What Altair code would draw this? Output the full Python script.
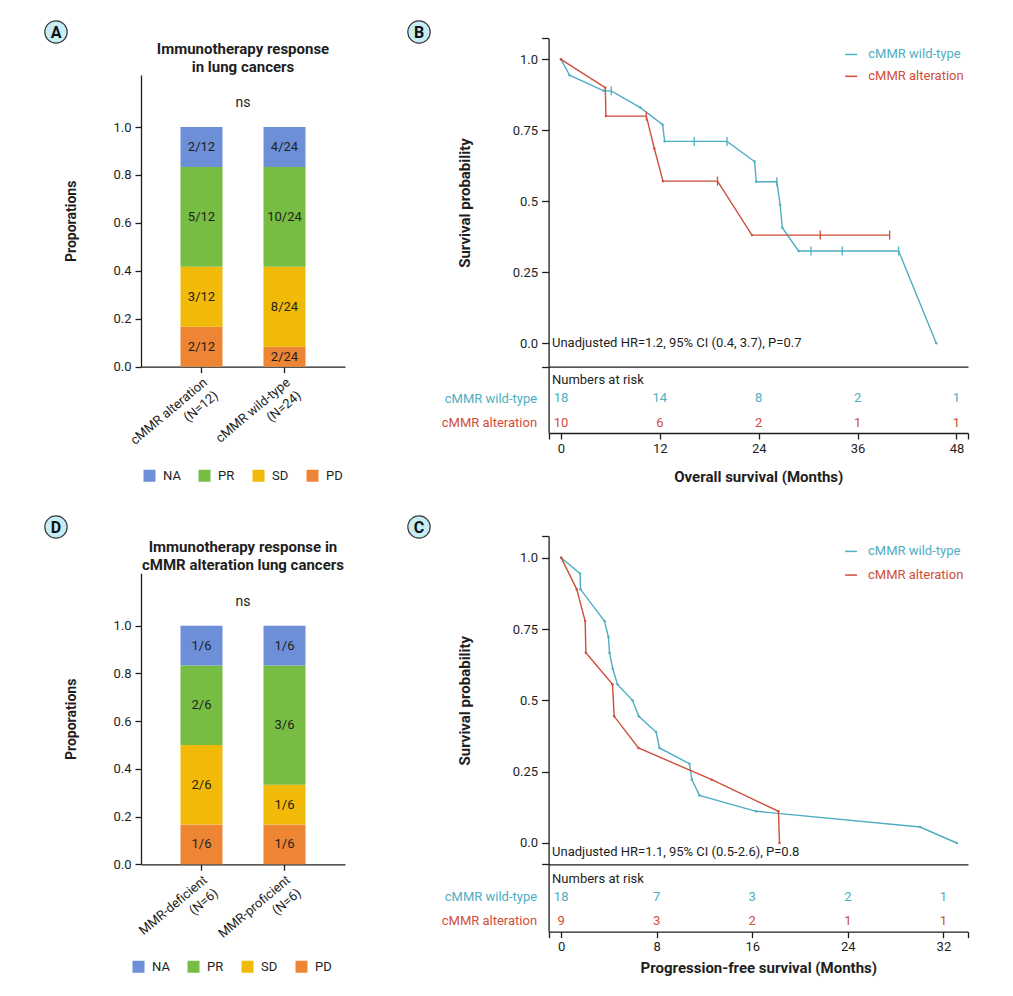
import altair as alt
import pandas as pd

FONT = "Roboto"
INK = "#1e1e1e"
W, H = 997, 980

# ---------------- data ----------------
resp_levels = ["NA", "PR", "SD", "PD"]
resp_colors = ["#6C8FD8", "#77BD44", "#F1B908", "#EE8535"]
stack_order = ["PD", "SD", "PR", "NA"]

a_groups = ["cMMR alteration\n(N=12)", "cMMR wild-type\n(N=24)"]
a_pd = [2, 2]
a_sd = [3, 8]
a_pr = [5, 10]
a_na = [2, 4]

d_groups = ["MMR-deficient\n(N=6)", "MMR-proficient\n(N=6)"]
d_pd = [1, 1]
d_sd = [2, 1]
d_pr = [2, 3]
d_na = [1, 1]

km_groups = ["cMMR wild-type", "cMMR alteration"]
km_colors = ["#4EAEC3", "#CF4E3B"]

# Overall survival curve vertices (time in months, survival, censored flag)
os_wt_time = [0, 1.05, 5.18, 6.1, 9.63, 12.34, 12.58, 16.18, 20.15, 23.5, 23.7, 26.2,
              26.6, 26.86, 28.84, 30.34, 34.14, 40.98, 45.55]
os_wt_surv = [1.0, 0.944, 0.889, 0.889, 0.830, 0.770, 0.711, 0.711, 0.711, 0.640, 0.569,
              0.569, 0.488, 0.407, 0.325, 0.325, 0.325, 0.325, 0.0]
os_wt_cens = [0, 0, 0, 1, 0, 0, 0, 1, 1, 0, 0, 1, 0, 0, 0, 1, 1, 1, 0]

os_alt_time = [0, 5.38, 5.46, 10.36, 11.33, 12.38, 19.0, 23.18, 31.47, 39.89]
os_alt_surv = [1.0, 0.9, 0.8, 0.8, 0.686, 0.571, 0.571, 0.381, 0.381, 0.381]
os_alt_cens = [0, 0, 0, 1, 0, 0, 1, 0, 1, 1]

# Progression-free survival curve vertices
pfs_wt_time = [0, 1.59, 1.62, 3.63, 3.96, 4.05, 4.32, 4.72, 5.97, 6.5, 7.95, 8.23,
               10.74, 10.94, 11.58, 16.32, 30.05, 33.12]
pfs_wt_surv = [1.0, 0.944, 0.889, 0.778, 0.722, 0.667, 0.611, 0.556, 0.5, 0.444, 0.389,
               0.333, 0.278, 0.222, 0.167, 0.111, 0.056, 0.0]
pfs_wt_cens = [0] * 18

pfs_alt_time = [0, 1.31, 2.01, 2.07, 4.3, 4.44, 6.47, 12.61, 18.19, 18.28]
pfs_alt_surv = [1.0, 0.889, 0.778, 0.667, 0.556, 0.444, 0.333, 0.222, 0.111, 0.0]
pfs_alt_cens = [0] * 10

# Numbers at risk
risk_os_times = [0, 12, 24, 36, 48]
risk_os_wt = [18, 14, 8, 2, 1]
risk_os_alt = [10, 6, 2, 1, 1]
risk_pfs_times = [0, 8, 16, 24, 32]
risk_pfs_wt = [18, 7, 3, 2, 1]
risk_pfs_alt = [9, 3, 2, 1, 1]

os_hr = "Unadjusted HR=1.2, 95% CI (0.4, 3.7), P=0.7"
pfs_hr = "Unadjusted HR=1.1, 95% CI (0.5-2.6), P=0.8"


def px(v):
    """page pixel -> plot pixel"""
    return v - 8


ONE = pd.DataFrame({"k": [0]})


# ---------------- bar panels ----------------
def bar_panel(groups, counts, title_lines, y_top, y0_page, y1_page, leg_x, leg_y):
    rows = []
    for gi, g in enumerate(groups):
        total = sum(counts[k][gi] for k in stack_order)
        acc = 0
        for k in stack_order:
            c = counts[k][gi]
            rows.append(dict(group=g, resp=k, lo=acc / total, hi=(acc + c) / total,
                             mid=(acc + c / 2) / total, lab=f"{c}/{total}"))
            acc += c
    df = pd.DataFrame(rows)
    xs = alt.Scale(domain=groups, range=[px(141), px(345)], paddingInner=0.494, paddingOuter=0.476)
    ys = alt.Scale(domain=[0, y_top], range=[px(y0_page), px(y1_page)], nice=False, zero=False)
    xax = alt.Axis(orient="bottom", offset=px(y0_page) - H, title=None, labelAngle=-40,
                   labelAlign="right", labelBaseline="top",
                   labelExpr="split(datum.label, '\\n')", labelLineHeight=17,
                   labelFontSize=13, labelColor=INK, labelPadding=3, tickSize=6,
                   tickColor=INK, domainColor=INK, domainWidth=1.3, tickWidth=1.3)
    yax = alt.Axis(orient="left", offset=-px(141), title="Proporations",
                   values=[0, 0.2, 0.4, 0.6, 0.8, 1.0], format=".1f", grid=False,
                   titleFontSize=14, titleFontWeight="bold", titleColor=INK, titlePadding=34,
                   labelFontSize=13, labelColor=INK, labelPadding=4, tickSize=6,
                   tickColor=INK, domainColor=INK, domainWidth=1.3, tickWidth=1.3)
    cs = alt.Scale(domain=resp_levels, range=resp_colors)
    base = alt.Chart(df)
    bars = base.mark_bar(opacity=1).encode(
        x=alt.X("group:N", scale=xs, axis=xax, sort=groups),
        y=alt.Y("lo:Q", scale=ys, axis=yax),
        y2="hi:Q",
        color=alt.Color("resp:N", scale=cs, legend=alt.Legend(
            orient="none", legendX=leg_x, legendY=leg_y, direction="horizontal", title=None,
            symbolType="square", symbolSize=144, symbolStrokeWidth=0, symbolOpacity=1,
            labelFontSize=13, labelColor=INK, columnPadding=17, labelOffset=7, padding=0)),
    )
    labels = base.mark_text(fontSize=13, color=INK).encode(
        x=alt.X("group:N", scale=xs, axis=xax, sort=groups),
        y=alt.Y("mid:Q", scale=ys, axis=yax),
        text="lab:N",
    )
    ns = alt.Chart(ONE).mark_text(text="ns", fontSize=14, color=INK, dx=41.5).encode(
        x=alt.XDatum(groups[0], type="nominal", scale=xs, axis=xax),
        y=alt.YDatum(1.1, type="quantitative", scale=ys, axis=yax),
    )
    title = alt.Chart(ONE).mark_text(text=title_lines, fontSize=15, fontWeight="bold",
                                     color=INK, dx=41.5, dy=-26, lineHeight=18,
                                     baseline="middle").encode(
        x=alt.XDatum(groups[0], type="nominal", scale=xs, axis=xax),
        y=alt.YDatum(y_top, type="quantitative", scale=ys, axis=yax),
    )
    return alt.layer(bars, labels, ns, title)


panelA = bar_panel(a_groups, {"PD": a_pd, "SD": a_sd, "PR": a_pr, "NA": a_na},
                   ["Immunotherapy response", "in lung cancers"], 1.217, 366.7, 75,
                   px(143), px(469))
panelD = bar_panel(d_groups, {"PD": d_pd, "SD": d_sd, "PR": d_pr, "NA": d_na},
                   ["Immunotherapy response in", "cMMR alteration lung cancers"], 1.2196,
                   864.3, 573.3, px(132), px(960))


# ---------------- KM panels ----------------
def km_panel(curves, x_dom, y_dom, y_top_page, sep_page, hr_text, hr_x, hr_y, leg):
    rows = []
    for grp, ts, ss, cz in curves:
        for i, (t, s, c) in enumerate(zip(ts, ss, cz)):
            rows.append(dict(grp=grp, t=t, s=s, cens=c, idx=i))
    df = pd.DataFrame(rows)
    xs = alt.Scale(domain=x_dom, range=[px(548.6), px(968)], nice=False, zero=False)
    ys = alt.Scale(domain=y_dom, range=[px(sep_page), px(y_top_page)], nice=False, zero=False)
    cs = alt.Scale(domain=km_groups, range=km_colors)
    xax = alt.Axis(orient="bottom", offset=px(sep_page) - H, title=None, labels=False,
                   ticks=False, grid=False, domainColor=INK, domainWidth=1.3)
    yax = alt.Axis(orient="left", offset=-px(548.6),
                   values=[y_dom[0], 0, 0.25, 0.5, 0.75, 1.0, y_dom[1]],
                   labelExpr="datum.value < -0.001 || datum.value > 1.001 ? '' : "
                             "(datum.value == 0 ? '0.0' : (datum.value == 1 ? '1.0' : '' + datum.value))",
                   title="Survival probability", titleFontSize=15, titleFontWeight="bold",
                   titleColor=INK, titlePadding=40, grid=False, labelFontSize=13,
                   labelColor=INK, labelPadding=4, tickSize=7, tickColor=INK,
                   domainColor=INK, domainWidth=1.3, tickWidth=1.3)
    X = alt.X("t:Q", scale=xs, axis=xax)
    Y = alt.Y("s:Q", scale=ys, axis=yax)
    C = alt.Color("grp:N", scale=cs, legend=None)
    base = alt.Chart(df)
    lines = base.mark_line(strokeWidth=1.4).encode(x=X, y=Y, color=C, order="idx:Q")
    dots = base.transform_filter("datum.cens == 0").mark_point(
        filled=True, size=6, opacity=1).encode(x=X, y=Y, color=C)
    cens = base.transform_filter("datum.cens == 1").mark_tick(
        orient="vertical", size=9, thickness=1.3, opacity=1).encode(x=X, y=Y, color=C)
    hr = alt.Chart(ONE).mark_text(text=hr_text, fontSize=13, color=INK, align="left",
                                  baseline="middle").encode(
        x=alt.XDatum(hr_x, type="quantitative", scale=xs, axis=xax),
        y=alt.YDatum(hr_y, type="quantitative", scale=ys, axis=yax),
    )
    ldf = pd.DataFrame(dict(grp=km_groups, x0=[leg[0]] * 2, x1=[leg[1]] * 2,
                            xt=[leg[2]] * 2, y=leg[3]))
    lrule = alt.Chart(ldf).mark_rule(strokeWidth=1.5).encode(
        x=alt.X("x0:Q", scale=xs, axis=xax), x2="x1:Q",
        y=alt.Y("y:Q", scale=ys, axis=yax), color=C)
    ltext = alt.Chart(ldf).mark_text(fontSize=13, align="left", baseline="middle").encode(
        x=alt.X("xt:Q", scale=xs, axis=xax), y=alt.Y("y:Q", scale=ys, axis=yax),
        text="grp:N", color=C)
    return alt.layer(lines, dots, cens, hr, lrule, ltext)


def risk_panel(times, wt, al, x_dom, xtitle, title_pad, top_page, row_pages, bottom_page, hdr_x):
    rows = []
    for t, a, b in zip(times, wt, al):
        rows.append(dict(t=t, grp=km_groups[0], n=a))
        rows.append(dict(t=t, grp=km_groups[1], n=b))
    df = pd.DataFrame(rows)
    xs = alt.Scale(domain=x_dom, range=[px(548.6), px(968)], nice=False, zero=False)
    span = bottom_page - top_page
    step = row_pages[1] - row_pages[0]
    outer = span - step
    ry = alt.Scale(type="point", domain=km_groups, range=[px(top_page), px(bottom_page)],
                   padding=outer / (2 * step), align=(row_pages[0] - top_page) / outer)
    cs = alt.Scale(domain=km_groups, range=km_colors)
    xax = alt.Axis(orient="bottom", offset=px(bottom_page) - H,
                   values=[x_dom[0]] + times + [x_dom[1]],
                   labelExpr=f"datum.value < -0.01 || datum.value > {times[-1] + 0.01} ? '' : datum.label",
                   title=xtitle, titleFontSize=15, titleFontWeight="bold", titleColor=INK,
                   titlePadding=title_pad, grid=False, labelFontSize=13, labelColor=INK,
                   labelPadding=3, tickSize=6, tickColor=INK, domainColor=INK,
                   domainWidth=1.3, tickWidth=1.3)
    yax = alt.Axis(orient="left", offset=-px(548.6), title=None, ticks=False, tickSize=0,
                   labelPadding=12, labelFontSize=13, grid=False,
                   labelColor={"condition": {"test": f"datum.value === '{km_groups[0]}'",
                                             "value": km_colors[0]},
                               "value": km_colors[1]},
                   domainColor=INK, domainWidth=1.3)
    nums = alt.Chart(df).mark_text(fontSize=13, baseline="middle").encode(
        x=alt.X("t:Q", scale=xs, axis=xax),
        y=alt.Y("grp:N", scale=ry, axis=yax),
        text="n:Q",
        color=alt.Color("grp:N", scale=cs, legend=None),
    )
    hdr = alt.Chart(ONE).mark_text(text="Numbers at risk", fontSize=13, color=INK,
                                   align="left", baseline="middle", dy=-18).encode(
        x=alt.XDatum(hdr_x, type="quantitative", scale=xs, axis=xax),
        y=alt.YDatum(km_groups[0], type="nominal", scale=ry, axis=yax),
    )
    return alt.layer(nums, hdr)


kmB = km_panel(
    [(km_groups[0], os_wt_time, os_wt_surv, os_wt_cens),
     (km_groups[1], os_alt_time, os_alt_surv, os_alt_cens)],
    [-1.5, 49.4], [-0.0824, 1.074], 38.3, 366.7, os_hr, -1.09, 0.0,
    (34.5, 35.95, 37.3, [1.017, 0.940]))
riskB = risk_panel(risk_os_times, risk_os_wt, risk_os_alt, [-1.5, 49.4],
                   "Overall survival (Months)", 14, 366.7, [398, 422.7], 433, -1.09)

kmC = km_panel(
    [(km_groups[0], pfs_wt_time, pfs_wt_surv, pfs_wt_cens),
     (km_groups[1], pfs_alt_time, pfs_alt_surv, pfs_alt_cens)],
    [-1.05, 34.06], [-0.0747, 1.076], 536, 864.3, pfs_hr, -0.76, -0.0315,
    (23.77, 24.77, 25.69, [1.022, 0.939]))
riskC = risk_panel(risk_pfs_times, risk_pfs_wt, risk_pfs_alt, [-1.05, 34.06],
                   "Progression-free survival (Months)", 7, 864.3, [896.7, 920.7], 931.7, -0.76)


# ---------------- panel badges ----------------
def badge(letter, cx, cy):
    circ = alt.Chart(ONE).mark_point(shape="circle", size=500, filled=True, fill="#C6EDF5",
                                     stroke="#3a3a3a", strokeWidth=1.2, opacity=1,
                                     fillOpacity=1).encode(
        x=alt.value(px(cx)), y=alt.value(px(cy)))
    txt = alt.Chart(ONE).mark_text(text=letter, fontSize=16, fontWeight="bold", color="#111",
                                   baseline="middle", align="center", dy=1).encode(
        x=alt.value(px(cx)), y=alt.value(px(cy)))
    return [circ, txt]


badges = badge("A", 56, 32) + badge("B", 419, 32) + badge("D", 56, 527) + badge("C", 419, 527)

chart = alt.layer(panelA, panelD, kmB, riskB, kmC, riskC, *badges).resolve_scale(
    x="independent", y="independent", color="independent"
).resolve_axis(
    x="independent", y="independent"
).resolve_legend(
    color="independent"
).properties(
    width=W, height=H, autosize=alt.AutoSizeParams(type="none"), padding=0
).configure(
    font=FONT
).configure_view(
    stroke="transparent"
)

chart.save("out.html", embed_options={"renderer": "svg", "actions": False})
